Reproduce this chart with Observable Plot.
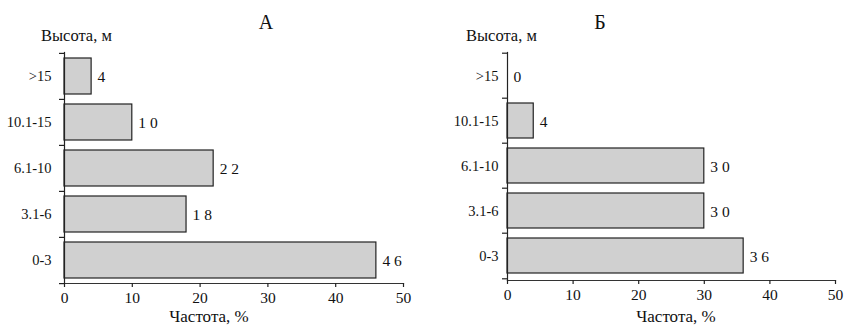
<!DOCTYPE html>
<html>
<head>
<meta charset="utf-8">
<script src="https://cdn.jsdelivr.net/npm/d3@7"></script>
<script src="https://cdn.jsdelivr.net/npm/@observablehq/plot@0.6"></script>
<style>
  html, body { margin: 0; padding: 0; background: #fff; }
  #root { position: relative; width: 845px; height: 326px; overflow: hidden; font-family: 'Liberation Serif', 'Times New Roman', serif; color: #111; }
  .panel { position: absolute; top: 0; }
  .lbl { position: absolute; line-height: 1; white-space: nowrap; color: #111; font-family: 'Liberation Serif', 'Times New Roman', serif; }
  .title { font-size: 20px; width: 40px; text-align: center; }
  .ylab { font-size: 16.5px; }
  .xlab { font-size: 17px; width: 140px; text-align: center; }
</style>
</head>
<body>
<div id="root">
  <div class="lbl title" style="left:246px; top:11.5px;">А</div>
  <div class="lbl title" style="left:580px; top:11.5px;">Б</div>
  <div class="lbl ylab" style="left:41px; top:28px;">Высота, м</div>
  <div class="lbl ylab" style="left:466px; top:28px;">Высота, м</div>
  <div class="lbl xlab" style="left:139px; top:307.5px;">Частота, %</div>
  <div class="lbl xlab" style="left:606px; top:307.5px;">Частота, %</div>
  <div id="pA" class="panel" style="left:0px;"></div>
  <div id="pB" class="panel" style="left:423px;"></div>
</div>
<script>
// Height classes (top to bottom as drawn)
const categories = [">15", "10.1-15", "6.1-10", "3.1-6", "0-3"];
// Frequency, % — panel А
const valuesA = [4, 10, 22, 18, 46];
// Frequency, % — panel Б
const valuesB = [0, 4, 30, 30, 36];
const xTicks = [0, 10, 20, 30, 40, 50];

function panel(values, opts) {
  const data = categories.map((c, i) => ({cat: c, value: values[i]}));
  const W = 422, H = 326;
  const step = (H - opts.mt - opts.mb) / categories.length;
  return Plot.plot({
    width: W,
    height: H,
    marginLeft: opts.ml,
    marginRight: opts.mr,
    marginTop: opts.mt,
    marginBottom: opts.mb,
    style: {fontFamily: "'Liberation Serif', 'Times New Roman', serif", fontSize: "14px", color: "#222", background: "transparent", overflow: "visible"},
    x: {domain: [0, 50], label: null},
    y: {domain: categories, paddingInner: 0.22, paddingOuter: 0.11, label: null},
    marks: [
      Plot.barX(data.filter(d => d.value > 0), {x: "value", y: "cat", fill: "#d0d0d0", stroke: "#222", strokeWidth: 1.2}),
      Plot.text(data, {x: "value", y: "cat", text: d => String(d.value).split("").join(" "), textAnchor: "start", dx: 6, dy: 1, fontSize: 15.5, fill: "#111"}),
      Plot.frame({anchor: "left", stroke: "#222", strokeWidth: 1.2}),
      Plot.frame({anchor: "bottom", stroke: "#333", strokeWidth: 1.2}),
      Plot.axisY({tickSize: 0, tickPadding: opts.tp, fontSize: 14.5, fill: "#111", label: null}),
      Plot.axisY({tickSize: 5, tickFormat: () => "", dy: -step / 2, label: null, strokeWidth: 1.2}),
      Plot.axisY({ticks: ["0-3"], tickSize: 5, tickFormat: () => "", dy: step / 2, label: null, strokeWidth: 1.2}),
      Plot.axisX({ticks: xTicks, tickSize: 4, tickPadding: 4, fontSize: 15.5, fill: "#111", label: null, strokeWidth: 1.2})
    ]
  });
}

document.getElementById("pA").appendChild(panel(valuesA, {ml: 64, mr: 19, mt: 52, mb: 43, tp: 13}));
document.getElementById("pB").appendChild(panel(valuesB, {ml: 84, mr: 10, mt: 52, mb: 46, tp: 9}));
</script>
</body>
</html>
